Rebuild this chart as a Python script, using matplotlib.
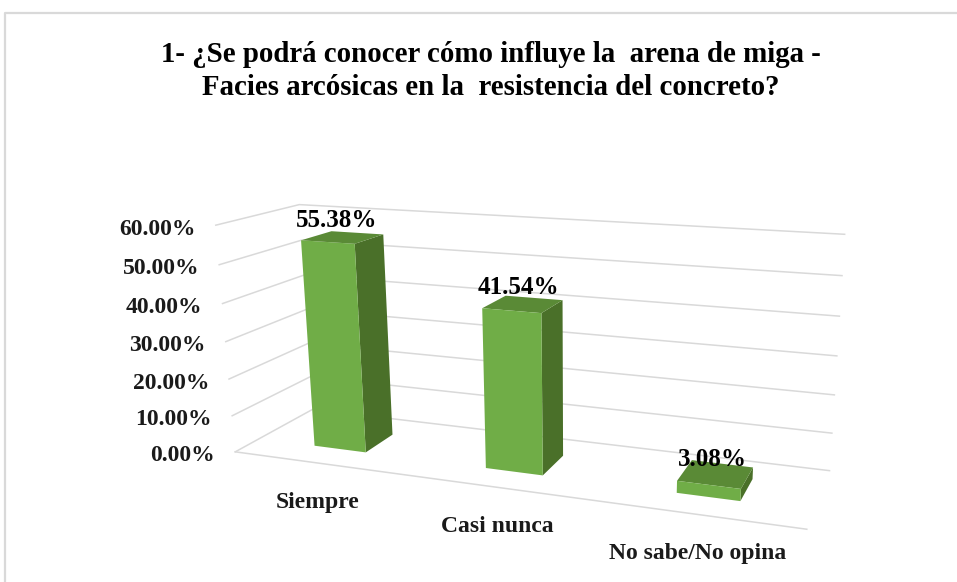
import numpy as np
import matplotlib
matplotlib.use("Agg")
import matplotlib.pyplot as plt
from matplotlib.patches import Polygon

categories = ["Siempre", "Casi nunca", "No sabe/No opina"]
values = [55.38, 41.54, 3.08]
value_labels = ["55.38%", "41.54%", "3.08%"]
y_ticks = [0, 10, 20, 30, 40, 50, 60]
y_tick_labels = ["0.00%", "10.00%", "20.00%", "30.00%", "40.00%", "50.00%", "60.00%"]
title = "1- ¿Se podrá conocer cómo influye la  arena de miga -\nFacies arcósicas en la  resistencia del concreto?"

# Chart box corners (category pos, depth, value) and where they sit on the canvas
box_points = [(0, 0, 0), (3, 0, 0), (0, 1, 0), (3, 1, 0), (0, 1, 60), (3, 1, 60), (0, 0, 60)]
canvas_points = [(233, 453), (807, 528), (315, 408), (829, 472), (297, 205), (845, 234), (218, 225)]

FRONT = "#70AD47"
TOP = "#5A8A36"
SIDE = "#4A7029"
GRID = "#D9D9D9"
BAR_WIDTH = 0.31
DEPTH_START = 0.29
DEPTH_END = 0.68


def fit_camera(box, canvas):
    # Solve the 3x4 projection matrix from the point pairs
    rows = []
    for (x, y, z), (px, py) in zip(box, canvas):
        rows.append([x, y, z, 1, 0, 0, 0, 0, -px * x, -px * y, -px * z, -px])
        rows.append([0, 0, 0, 0, x, y, z, 1, -py * x, -py * y, -py * z, -py])
    _, _, vt = np.linalg.svd(np.array(rows, dtype=float))
    return vt[-1].reshape(3, 4)


camera = fit_camera(box_points, canvas_points)


def project(x, y, z):
    p = camera @ np.array([x, y, z, 1.0])
    return p[0] / p[2], p[1] / p[2]


plt.rcParams["font.family"] = ["Liberation Serif"]

fig = plt.figure(figsize=(9.57, 5.82), dpi=100)
ax = fig.add_axes([0, 0, 1, 1])
ax.set_xlim(0, 957)
ax.set_ylim(582, 0)
ax.axis("off")

# Outer chart frame
ax.plot([5, 5, 957], [582, 13, 13], color="#D9D9D9", lw=1.6)

# Gridlines on the back and side walls, plus the front edge of the floor
for tick in y_ticks:
    pts = [project(0, 0, tick), project(0, 1, tick), project(3, 1, tick)]
    ax.plot(*zip(*pts), color=GRID, lw=1.1, zorder=1)
ax.plot(*zip(project(0, 0, 0), project(3, 0, 0)), color=GRID, lw=1.1, zorder=1)

# Bars
for i, value in enumerate(values):
    x0 = i + 0.5 - BAR_WIDTH / 2
    x1 = i + 0.5 + BAR_WIDTH / 2
    d0, d1 = DEPTH_START, DEPTH_END
    front = [project(x0, d0, 0), project(x1, d0, 0), project(x1, d0, value), project(x0, d0, value)]
    side = [project(x1, d0, 0), project(x1, d1, 0), project(x1, d1, value), project(x1, d0, value)]
    top = [project(x0, d0, value), project(x1, d0, value), project(x1, d1, value), project(x0, d1, value)]
    ax.add_patch(Polygon(side, closed=True, facecolor=SIDE, edgecolor="none", zorder=2))
    ax.add_patch(Polygon(top, closed=True, facecolor=TOP, edgecolor="none", zorder=2))
    ax.add_patch(Polygon(front, closed=True, facecolor=FRONT, edgecolor="none", zorder=3))

    # Value label sits just above the top face
    lx, ly = project(i + 0.5, 0.4, value)
    ax.text(lx, ly - 19, value_labels[i], ha="center", va="center", fontsize=18,
            fontweight="bold", color="black", zorder=4)

    # Category label below the floor edge
    cx, cy = project(i + 0.5, 0, 0)
    ax.text(cx, cy + 39, categories[i], ha="center", va="center", fontsize=17,
            fontweight="bold", color="#1a1a1a", zorder=4)

# Value axis labels
for tick, label in zip(y_ticks, y_tick_labels):
    tx, ty = project(0, 0, tick)
    ax.text(tx - 20, ty + 4, label, ha="right", va="center", fontsize=17,
            fontweight="bold", color="#1a1a1a")

ax.text(491, 71, title, ha="center", va="center", fontsize=20.8, fontweight="bold",
        color="black", linespacing=1.27)

fig.savefig("out.png", dpi=100)
